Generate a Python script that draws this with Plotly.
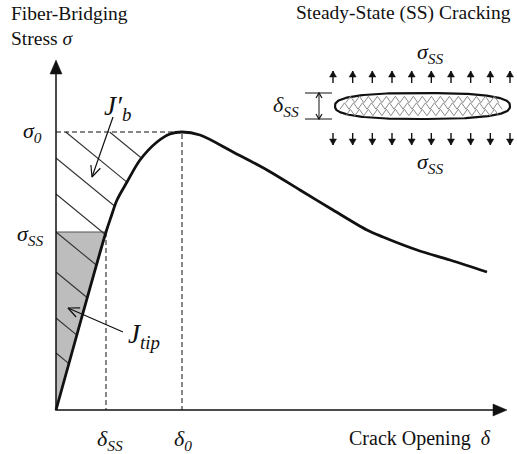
import numpy as np
import plotly.graph_objects as go

# ---------------------------------------------------------------------------
# Data (units: roughly pixels from the origin)
# ---------------------------------------------------------------------------
DELTA = [0, 25, 50, 55, 61, 71, 84, 101, 114, 126, 144, 177, 211, 244, 277, 311, 327, 361, 394, 431]
SIGMA = [0, 90, 178, 193, 210, 228, 250, 268, 276, 278, 275, 258, 240, 220, 200, 180, 173, 160, 150, 138]

DELTA_SS, SIGMA_SS = 50, 178
DELTA_0, SIGMA_0 = 126, 278

HATCH_C = [322, 286, 252, 216, 178, 138, 92, 57]   # hatch line intercepts on the stress axis
HATCH_SLOPE = 0.82

X_END, Y_END = 451, 350        # axis arrow tips
N_ARROWS = 10                  # traction arrows in the inset

FONT = "Liberation Serif"
INK = "#111111"
GREY_FILL = "#bdbdbd"

fig = go.Figure()


def seg(xs, ys, color=INK, width=1.0, dash=None, fill=None, fillcolor=None):
    fig.add_trace(go.Scatter(x=xs, y=ys, mode="lines", fill=fill, fillcolor=fillcolor,
                             line=dict(color=color, width=width, dash=dash),
                             hoverinfo="skip"))


# arrow geometry helpers (axes are 1:1, so unit vectors work in data space)
heads_x, heads_y = [], []     # filled heads
vee_x, vee_y = [], []         # open "V" heads


def _frame(tail, tip):
    d = np.array(tip, float) - np.array(tail, float)
    u = d / np.hypot(*d)
    return np.array(tip, float), u, np.array([-u[1], u[0]])


def filled_head(tail, tip, length, half):
    p, u, nrm = _frame(tail, tip)
    b = p - length * u
    for q in (p, b + half * nrm, b - half * nrm, p):
        heads_x.append(q[0]); heads_y.append(q[1])
    heads_x.append(None); heads_y.append(None)


def vee_head(tail, tip, length, half):
    p, u, nrm = _frame(tail, tip)
    b = p - length * u
    for q in (b + half * nrm, p, b - half * nrm):
        vee_x.append(q[0]); vee_y.append(q[1])
    vee_x.append(None); vee_y.append(None)


# --- grey J_tip triangle --------------------------------------------------
tip_n = DELTA.index(DELTA_SS) + 1
seg(DELTA[:tip_n] + [0, 0], SIGMA[:tip_n] + [SIGMA_SS, 0], width=0,
    fill="toself", fillcolor=GREY_FILL)
seg([0, DELTA_SS], [SIGMA_SS, SIGMA_SS], color="#555555", width=1.2)

# --- hatch lines, clipped to the rising branch of the curve ------------------
asc_n = DELTA.index(DELTA_0) + 1
xs = np.linspace(0, DELTA_0, 3000)
ys_curve = np.interp(xs, DELTA[:asc_n], SIGMA[:asc_n])
hx, hy = [], []
for c in HATCH_C:
    x0 = max(0.0, (c - SIGMA_0) / HATCH_SLOPE)
    line = c - HATCH_SLOPE * xs
    x1 = xs[np.argmax((line <= ys_curve) & (xs >= x0))]
    hx += [x0, x1, None]
    hy += [c - HATCH_SLOPE * x0, c - HATCH_SLOPE * x1, None]
seg(hx, hy, color="#333333", width=1.1)

# --- dashed guides ----------------------------------------------------------
dash = "5px,3px"
seg([0, DELTA_0, DELTA_0], [SIGMA_0, SIGMA_0, 0], dash=dash)
seg([DELTA_SS, DELTA_SS], [SIGMA_SS, 0], dash=dash)

# --- bridging curve -----------------------------------------------------------
fig.add_trace(go.Scatter(
    x=DELTA, y=SIGMA, mode="lines",
    line=dict(color=INK, width=2.8, shape="spline", smoothing=0.9), hoverinfo="skip",
))

# --- axes with arrow heads ------------------------------------------------------
seg([X_END - 8, 0, 0], [0, 0, Y_END - 8], width=1.5)
filled_head((0, 0), (X_END, 0), 14, 6)
filled_head((0, 0), (0, Y_END), 14, 6)

# --- inset: steady-state crack ----------------------------------------------------
cx, cy, a, b = 366.5, 304, 87.5, 13
t = np.linspace(0, 2 * np.pi, 240)
n = 2.6
ex = cx + a * np.sign(np.cos(t)) * np.abs(np.cos(t)) ** (2 / n)
ey = cy + b * np.sign(np.sin(t)) * np.abs(np.sin(t)) ** (2 / n)
seg(list(ex), list(ey), width=2.2, fill="toself", fillcolor="white")
zx, zy = [], []
for row in [-6.5, 0, 6.5]:
    lim = a * (1 - (abs(row) / b) ** n) ** (1 / n) - 5
    px = np.arange(cx - lim, cx + lim, 4.5)
    py = cy + row + np.where(np.arange(len(px)) % 2 == 0, -3.2, 3.2)
    zx += list(px) + [None]
    zy += list(py) + [None]
seg(zx, zy, color="#8a8a8a", width=1)

ax_list, ay_list = [], []
for x in np.linspace(277, 454, N_ARROWS):
    for tail, tip in (((x, 327), (x, 339)), ((x, 277), (x, 265))):
        ax_list += [tail[0], tip[0], None]
        ay_list += [tail[1], tip[1], None]
        filled_head(tail, tip, 6, 3.5)
seg(ax_list, ay_list, width=1.4)

seg([249, 276, None, 249, 276, None, 263, 263], [317, 317, None, 291, 291, None, 291, 317])
vee_head((263, 304), (263, 317), 5, 3)
vee_head((263, 304), (263, 291), 5, 3)

# --- label arrows -------------------------------------------------------------------
seg([57, 36, None, 67, 12], [293, 233, None, 78, 102], width=1.2)
vee_head((57, 293), (36, 233), 11, 5)
vee_head((67, 78), (12, 102), 11, 5)

seg(vee_x, vee_y, width=1.2)
seg(heads_x, heads_y, width=0.5, fill="toself", fillcolor=INK)

# --- text -----------------------------------------------------------------------------
def label(x, y, text, size=19.5, xanchor="center", yanchor="middle"):
    fig.add_annotation(x=x, y=y, xref="x", yref="y", text=text, showarrow=False,
                       xanchor=xanchor, yanchor=yanchor,
                       font=dict(family=FONT, size=size, color=INK))

label(-47, 397, "Fiber-Bridging", xanchor="left")
label(-47, 372, "Stress <i>σ</i>", xanchor="left")
label(457, 397, "Steady-State (SS) Cracking", xanchor="right")
label(-12, SIGMA_0, "<i>σ</i><sub><i>0</i></sub>", size=22, xanchor="right")
label(-10, SIGMA_SS - 3, "<i>σ</i><sub><i>SS</i></sub>", size=22, xanchor="right")
label(DELTA_SS + 4, -30, "<i>δ</i><sub><i>SS</i></sub>", size=22)
label(DELTA_0 + 1, -30, "<i>δ</i><sub><i>0</i></sub>", size=22)
label(437, -28, "Crack Opening  <i>δ</i>", size=20, xanchor="right")
label(61, 302, "<i>J′</i><sub><i>b</i></sub>", size=27)
label(88, 74, "<i>J</i><sub><i>tip</i></sub>", size=27)
label(374, 357, "<i>σ</i><sub><i>SS</i></sub>", size=22)
label(374, 247, "<i>σ</i><sub><i>SS</i></sub>", size=22)
label(245, 304, "<i>δ</i><sub><i>SS</i></sub>", size=22, xanchor="right")

fig.update_layout(
    width=517, height=454, autosize=False, showlegend=False,
    margin=dict(l=0, r=0, t=0, b=0),
    plot_bgcolor="white", paper_bgcolor="white",
    xaxis=dict(range=[-56, 461], visible=False, fixedrange=True),
    yaxis=dict(range=[-44, 410], visible=False, fixedrange=True),
)

# drop the browser's default body margin so the figure fills the window exactly
fig.write_html("out.html", config={"displayModeBar": False},
               post_script="document.body.style.margin='0';")
